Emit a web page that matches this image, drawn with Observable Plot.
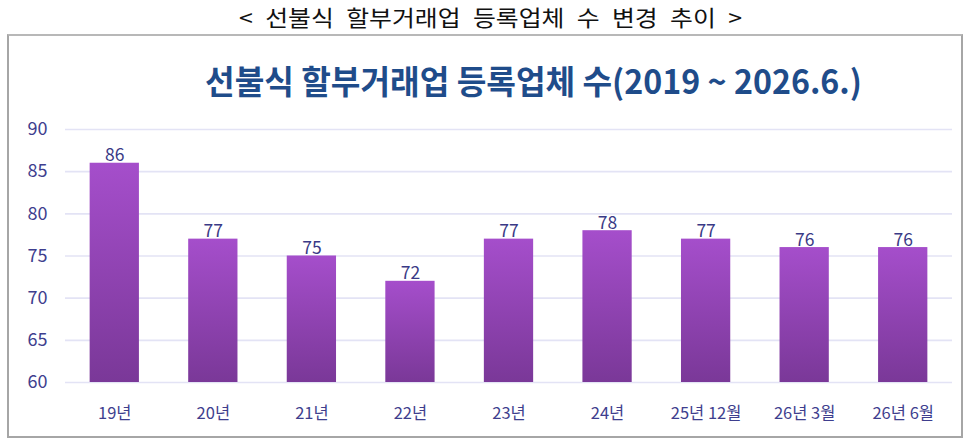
<!DOCTYPE html>
<html>
<head>
<meta charset="utf-8">
<script src="https://cdn.jsdelivr.net/npm/d3@7"></script>
<script src="https://cdn.jsdelivr.net/npm/@observablehq/plot@0.6"></script>
<style>
  html, body { margin: 0; padding: 0; background: #fff; }
  #wrap { position: relative; width: 976px; height: 448px; overflow: hidden; font-family: "Noto Sans CJK KR", "Noto Sans", sans-serif; }
  #outer { position: absolute; left: 239px; top: 3px; font-size: 22px; line-height: 26px; color: #111; white-space: nowrap; word-spacing: 6px; transform-origin: 0 0; }
  #box { position: absolute; left: 7px; top: 34px; width: 956px; height: 404px; border: 2px solid #a6a6a6; border-top-color: #b8b8b8; box-sizing: border-box; }
  #inner { position: absolute; left: 205px; top: 58px; font-size: 33px; font-weight: bold; color: #1f4c8a; white-space: nowrap; transform-origin: 0 0; line-height: 44px; }
  #chart { position: absolute; left: 0; top: 0; }
</style>
</head>
<body>
<div id="wrap">
  <div id="outer">&lt; 선불식 할부거래업 등록업체 수 변경 추이 &gt;</div>
  <div id="box"></div>
  <div id="inner">선불식 할부거래업 등록업체 수(2019 ~ 2026.6.)</div>
  <div id="chart"></div>
</div>
<script>
const categories = ["19년", "20년", "21년", "22년", "23년", "24년", "25년 12월", "26년 3월", "26년 6월"];
const counts = [86, 77, 75, 72, 77, 78, 77, 76, 76];
const yTicks = [60, 65, 70, 75, 80, 85, 90];

const data = categories.map((c, i) => ({cat: c, v: counts[i]}));

function fitWidth(id, target) {
  const el = document.getElementById(id);
  const w = el.getBoundingClientRect().width;
  el.style.transform = `scaleX(${target / w})`;
}
fitWidth("inner", 657);
fitWidth("outer", 503);

const plot = Plot.plot({
  width: 976,
  height: 448,
  marginLeft: 65,
  marginRight: 24,
  marginTop: 129,
  marginBottom: 66,
  style: { background: "transparent", fontFamily: "'Noto Sans CJK KR', 'Noto Sans', sans-serif", overflow: "visible" },
  x: { domain: categories, paddingInner: 0.5, paddingOuter: 0.25, round: false, label: null },
  y: { domain: [60, 90], label: null },
  marks: [
    Plot.ruleY(yTicks, { stroke: "#e3e3f5", strokeWidth: 1.6 }),
    Plot.axisY({ ticks: yTicks, tickSize: 0, tickPadding: 18, fontSize: 18, fill: "#3e3e8e", label: null }),
    Plot.axisX({ tickSize: 0, tickPadding: 25, fontSize: 16.5, fill: "#3e3e8e", label: null }),
    Plot.barY(data, { x: "cat", y1: 60, y2: "v", fill: "url(#barGrad)", style: "filter: drop-shadow(2px 4px 3px rgba(80,60,110,0.35))" }),
    Plot.text(data, { x: "cat", y: "v", text: d => String(d.v), lineAnchor: "bottom", dy: -2, fontSize: 17.5, fill: "#3a3a86" })
  ]
});

const ns = "http://www.w3.org/2000/svg";
const defs = document.createElementNS(ns, "defs");
const grad = document.createElementNS(ns, "linearGradient");
grad.setAttribute("id", "barGrad");
grad.setAttribute("x1", "0"); grad.setAttribute("y1", "0");
grad.setAttribute("x2", "0"); grad.setAttribute("y2", "1");
[["0%", "#a54ecb"], ["100%", "#7a3898"]].forEach(([o, c]) => {
  const s = document.createElementNS(ns, "stop");
  s.setAttribute("offset", o); s.setAttribute("stop-color", c);
  grad.appendChild(s);
});
defs.appendChild(grad);
plot.insertBefore(defs, plot.firstChild);

document.getElementById("chart").appendChild(plot);
</script>
</body>
</html>
